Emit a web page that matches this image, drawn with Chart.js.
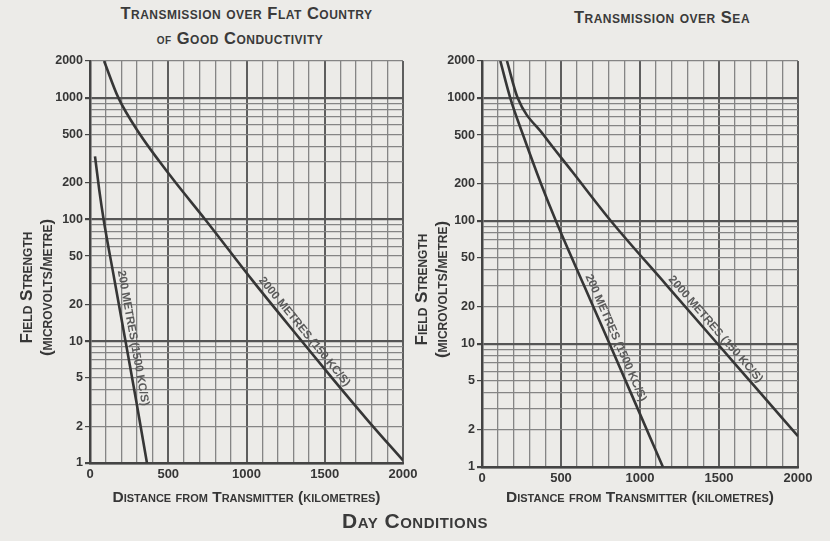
<!DOCTYPE html>
<html>
<head>
<meta charset="utf-8">
<script src="https://cdn.jsdelivr.net/npm/chart.js@4.4.1/dist/chart.umd.min.js"></script>
<style>
  body { margin: 0; width: 830px; height: 541px; overflow: hidden; position: relative;
         background: #ecebe8; color: #3a3a3a; font-family: "Liberation Sans", sans-serif; }
  canvas { position: absolute; top: 0; }
  #land { left: 0; }
  #sea { left: 410px; }
  .cap { position: absolute; text-align: center; font-variant: small-caps; font-weight: bold;
         white-space: nowrap; letter-spacing: 0.5px; }
</style>
</head>
<body>
<div class="cap" style="left:90px;width:313px;top:4px;font-size:16.5px;">Transmission over Flat Country</div>
<div class="cap" style="left:90px;width:300px;top:29px;font-size:16.5px;"><span style="font-size:10px">OF</span> Good Conductivity</div>
<div class="cap" style="left:504px;width:316px;top:8px;font-size:16.5px;">Transmission over Sea</div>
<canvas id="land" width="425" height="510"></canvas>
<canvas id="sea" width="420" height="510"></canvas>
<div class="cap" style="left:0;width:830px;top:509px;font-size:21px;">Day Conditions</div>
<script>
// values (km, microvolts/metre)
const landDist200 = [32, 59, 87, 156, 227, 296, 364];
const landField200 = [330, 175, 100, 32, 10, 3.2, 1];
const landDist2000 = [90, 181, 319, 443, 548, 736, 1043, 1340, 1546, 1780, 2000];
const landField2000 = [2000, 1000, 500, 300, 200, 100, 31, 10.5, 5, 2.2, 1.05];
const seaDist200 = [116, 179, 260, 374, 468, 645, 808, 975, 1145];
const seaField200 = [2000, 1000, 500, 200, 100, 30, 10, 3.2, 1];
const seaDist2000 = [158, 226, 390, 573, 816, 1169, 1492, 1734, 2000];
const seaField2000 = [2000, 1000, 500, 250, 100, 30, 10, 4.4, 1.78];

// axis ticks
const yGridValues = [1, 2, 3, 4, 5, 6, 7, 8, 9, 10, 20, 30, 40, 50, 60, 70, 80, 90,
  100, 200, 300, 400, 500, 600, 700, 800, 900, 1000, 2000];
const yTickLabels = [1, 2, 5, 10, 20, 50, 100, 200, 500, 1000, 2000];
const xTickLabels = [0, 500, 1000, 1500, 2000];

const ink = '#363636';
const gridInk = '#858585';
// trailing em spaces push the rotated y title a little lower, as in the original
const yTitle = ['Field Strength\u2003\u2003\u2003', '(microvolts/metre)\u2003\u2003\u2003'];

function toPoints(dist, field) {
  return dist.map((d, i) => ({ x: d, y: field[i] }));
}

// field value on a curve at a given distance (log interpolation)
function fieldAt(data, km) {
  for (let i = 0; i < data.length - 1; i++) {
    const a = data[i], b = data[i + 1];
    if (km >= a.x && km <= b.x) {
      const t = (km - a.x) / (b.x - a.x);
      return Math.pow(10, Math.log10(a.y) + t * (Math.log10(b.y) - Math.log10(a.y)));
    }
  }
  return data[data.length - 1].y;
}

// writes the wavelength labels along the curves
const curveLabels = {
  id: 'curveLabels',
  afterDatasetsDraw(chart, args, opts) {
    const ctx = chart.ctx;
    const xs = chart.scales.x, ys = chart.scales.y;
    (opts.items || []).forEach(item => {
      const data = chart.data.datasets[item.dataset].data;
      const p = (km) => ({ x: xs.getPixelForValue(km), y: ys.getPixelForValue(fieldAt(data, km)) });
      const c = p(item.at), a = p(item.at - item.span), b = p(item.at + item.span);
      const ang = Math.atan2(b.y - a.y, b.x - a.x);
      ctx.save();
      ctx.translate(c.x + Math.sin(ang) * item.offset, c.y - Math.cos(ang) * item.offset);
      ctx.rotate(ang);
      ctx.font = 'small-caps bold 11.5px "Liberation Sans"';
      ctx.fillStyle = '#5a5a5a';
      ctx.textAlign = 'center';
      ctx.textBaseline = 'middle';
      ctx.fillText(item.text, 0, 0);
      ctx.restore();
    });
  }
};

function makePanel(id, sets, yWidth, plotBottom, rightPad, titlePad, labels) {
  const canvas = document.getElementById(id);
  return new Chart(canvas, {
    type: 'line',
    data: {
      datasets: sets.map(s => ({
        data: toPoints(s[0], s[1]),
        borderColor: ink,
        borderWidth: 2.6,
        pointRadius: 0,
        cubicInterpolationMode: 'monotone',
        fill: false
      }))
    },
    options: {
      responsive: false,
      animation: false,
      devicePixelRatio: 1,
      layout: { padding: { top: 61, right: rightPad, left: 0, bottom: 0 } },
      plugins: {
        legend: { display: false },
        tooltip: { enabled: false },
        curveLabels: { items: labels }
      },
      scales: {
        x: {
          type: 'linear', min: 0, max: 2000,
          afterFit: s => {
            s.height = canvas.height - plotBottom;
            s.paddingLeft = 0;
            s.paddingRight = 0;
          },
          ticks: {
            stepSize: 100, autoSkip: false, maxRotation: 0, padding: 4,
            color: ink, font: { family: '"Liberation Sans"', size: 13, weight: 'bold' },
            callback: v => xTickLabels.includes(v) ? String(v) : ''
          },
          grid: {
            drawTicks: false,
            color: c => c.tick && c.tick.value % 500 === 0 ? '#5e5e5e' : gridInk,
            lineWidth: c => c.tick && c.tick.value % 500 === 0 ? 2 : 1.3
          },
          border: { color: '#444', width: 2.5 },
          title: {
            display: true, text: 'Distance from Transmitter (kilometres)', color: ink,
            padding: { top: 0, bottom: 3 },
            font: { family: '"Liberation Sans"', size: 15.5, weight: 'small-caps bold' }
          }
        },
        y: {
          type: 'logarithmic', min: 1, max: 2000,
          afterBuildTicks: s => { s.ticks = yGridValues.map(v => ({ value: v })); },
          afterFit: s => { s.width = yWidth; },
          ticks: {
            autoSkip: false, padding: 2, color: ink,
            font: { family: '"Liberation Sans"', size: 12.5, weight: 'bold' },
            callback: v => yTickLabels.includes(v) ? String(v) : ''
          },
          grid: {
            tickLength: 5,
            tickColor: c => c.tick && yTickLabels.includes(c.tick.value) ? '#444' : 'rgba(0,0,0,0)',
            color: c => c.tick && [1, 10, 100, 1000].includes(c.tick.value) ? '#555' : gridInk,
            lineWidth: c => c.tick && [1, 10, 100, 1000].includes(c.tick.value) ? 2.2 : 1.2
          },
          border: { color: '#444', width: 2.5 },
          title: {
            display: true, text: yTitle, color: ink,
            padding: { top: titlePad, bottom: 0 },
            font: { family: '"Liberation Sans"', size: 17, weight: 'small-caps bold', lineHeight: 1.15 }
          }
        }
      }
    },
    plugins: [curveLabels]
  });
}

makePanel('land', [[landDist200, landField200], [landDist2000, landField2000]], 90, 463, 22, 18, [
  { dataset: 0, text: '200 METRES (1500 KC/S)', at: 225, span: 40, offset: 8 },
  { dataset: 1, text: '2000 METRES (150 KC/S)', at: 1330, span: 80, offset: 8 }
]);
makePanel('sea', [[seaDist200, seaField200], [seaDist2000, seaField2000]], 72, 467, 32, 3, [
  { dataset: 0, text: '200 METRES (1500 KC/S)', at: 800, span: 60, offset: 8 },
  { dataset: 1, text: '2000 METRES (150 KC/S)', at: 1440, span: 80, offset: 8 }
]);
</script>
</body>
</html>
